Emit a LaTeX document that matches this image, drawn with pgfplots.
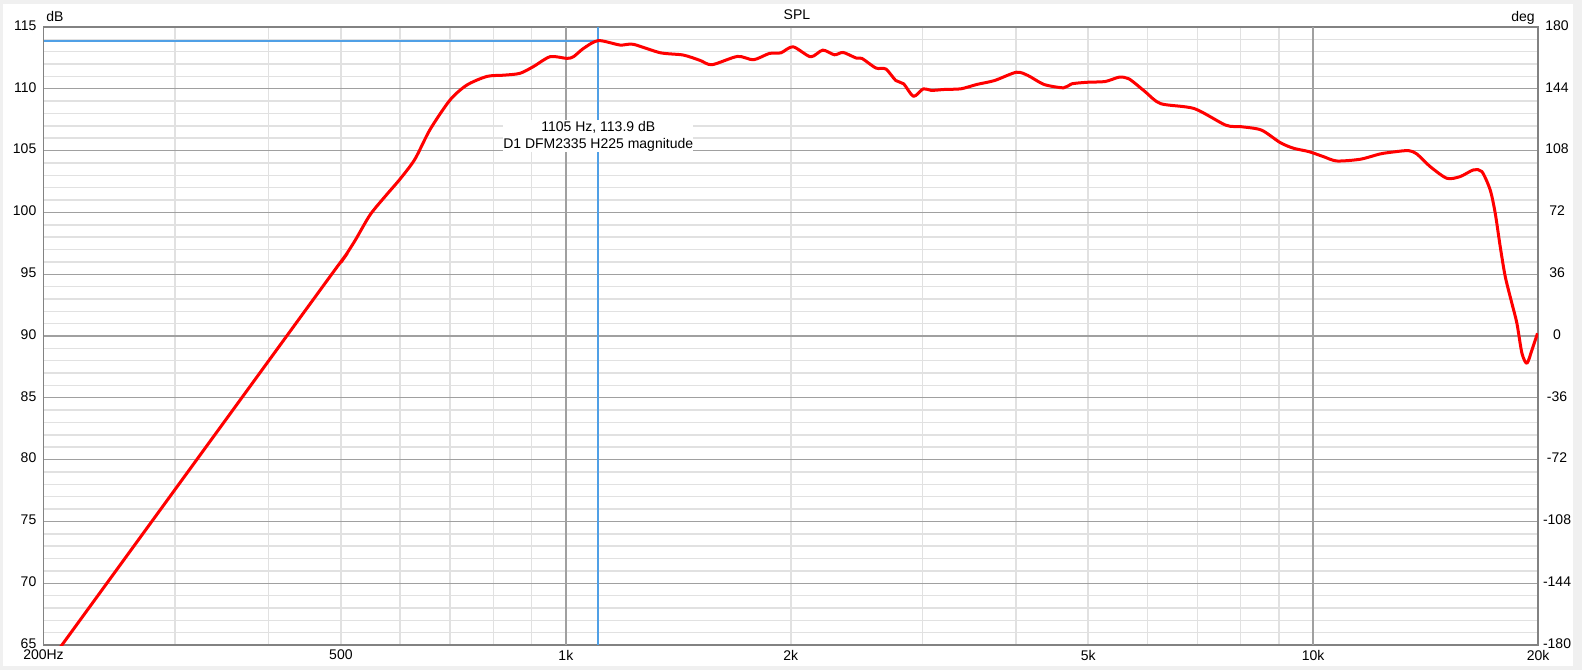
\documentclass[border=0pt]{standalone}
\usepackage{fontspec}
\setmainfont{Liberation Sans}
\usepackage{pgfplots}
\pgfplotsset{compat=1.18}
\definecolor{curve}{RGB}{255,0,0}
\definecolor{cursor}{RGB}{80,160,230}
\definecolor{majgrid}{RGB}{160,160,160}
\definecolor{mingrid}{RGB}{225,225,225}
\definecolor{frame}{RGB}{130,130,130}
\definecolor{bg}{RGB}{240,240,240}

\begin{document}
\begin{tikzpicture}[font=\fontsize{7}{8.4}\selectfont]
% window background
\fill[bg] (-21.75pt,-12.5pt) rectangle (769.25pt,322.5pt);
\fill[white] (-20.25pt,-10.5pt) rectangle (764.75pt,320.5pt);

\begin{axis}[
    name=spl,
    scale only axis,
    width=747.25pt, height=309pt,
    xmode=log, xmin=200, xmax=20000,
    ymin=65, ymax=115,
    xtick={200,500,1000,2000,5000,10000,20000},
    xticklabels={200Hz,500,1k,2k,5k,10k,20k},
    minor xtick={300,400,500,600,700,800,900,2000,3000,4000,5000,6000,7000,8000,9000},
    extra x ticks={1000,10000},
    extra x tick labels={},
    extra x tick style={xmajorgrids=true},
    ytick={65,70,...,115},
    minor y tick num=4,
    xminorgrids, ymajorgrids, yminorgrids,
    major grid style={majgrid, line width=0.65pt},
    minor grid style={mingrid, line width=0.75pt},
    axis line style={frame, line width=0.75pt},
    tick style={draw=none},
    xticklabel style={anchor=north, inner sep=0pt, yshift=-2.3pt},
    yticklabel style={anchor=east, inner sep=0pt, xshift=-3.4pt, yshift=0.8pt},
    /pgf/number format/assume math mode=true,
]
% cursor
\addplot[cursor, line width=1pt] coordinates {(200,113.9) (1105,113.9)};
\addplot[cursor, line width=1pt] coordinates {(1105,65) (1105,115)};

% D1 DFM2335 H225 magnitude
\addplot[curve, line width=1.5pt, smooth, tension=0.45, line join=round] coordinates {
(200,62.95) (480,94.55) (500,95.95) (522,97.7) (547,99.8) (575,101.4) (600,102.7) (628,104.3)
(658,106.7) (700,109.1) (737,110.3) (784,111.0) (825,111.1) (868,111.25)
(905,111.8) (953,112.6) (1003,112.46) (1024,112.6) (1056,113.27) (1105,113.9)
(1182,113.54) (1231,113.6) (1337,112.92) (1436,112.73) (1512,112.3) (1569,111.95)
(1697,112.62) (1783,112.35) (1872,112.86) (1940,112.91) (2014,113.4) (2126,112.59)
(2207,113.13) (2288,112.75) (2350,112.94) (2446,112.49) (2490,112.46) (2600,111.68)
(2681,111.6) (2764,110.67) (2832,110.4) (2919,109.39) (3009,110.0) (3083,109.87)
(3217,109.95) (3379,110.0) (3547,110.35) (3748,110.67) (4008,111.34) (4155,111.07)
(4365,110.35) (4637,110.08) (4751,110.4) (4990,110.53) (5271,110.59) (5501,110.94)
(5671,110.8) (5954,109.79) (6251,108.8) (6934,108.4) (7640,107.06) (8022,106.93)
(8528,106.66) (9033,105.65) (9414,105.19) (9867,104.92) (10325,104.51) (10757,104.16)
(11561,104.3) (12294,104.73) (12810,104.89) (13415,105.0) (13765,104.73) (14342,103.71)
(15100,102.76) (15735,102.9) (16393,103.44) (16822,103.3) (17258,101.82) (17527,99.93)
(17800,97.23) (18077,94.8) (18452,92.65) (18740,91.03) (19032,88.6) (19328,87.79)
(19628,88.87) (19970,90.22)
};

\node[fill=white, inner sep=0pt, minimum width=95pt, minimum height=16pt, align=center]
  at (axis cs:1105,106.18) {1105 Hz, 113.9 dB\\D1 DFM2335 H225 magnitude};
\end{axis}

% phase scale on the right
\begin{axis}[
    scale only axis,
    width=747.25pt, height=309pt,
    xmode=log, xmin=200, xmax=20000,
    ymin=-180, ymax=180,
    hide x axis,
    axis y line*=right,
    y axis line style={draw=none},
    ytick={-180,-144,...,180},
    tick style={draw=none},
    yticklabel style={anchor=center, inner sep=0pt, xshift=9.5pt, yshift=0.8pt},
    /pgf/number format/assume math mode=true,
]
\addplot[draw=none] coordinates {(1000,0)};
\end{axis}

% unit labels and title
\node[anchor=base west, inner sep=0pt, xshift=1.25pt, yshift=2.6pt] at (spl.north west) {dB};
\node[anchor=base east, inner sep=0pt, xshift=-1.5pt, yshift=3pt] at (spl.north east) {deg};
\node[anchor=base, inner sep=0pt, xshift=3.1pt, yshift=3.6pt] at (spl.north) {SPL};
\end{tikzpicture}
\end{document}
